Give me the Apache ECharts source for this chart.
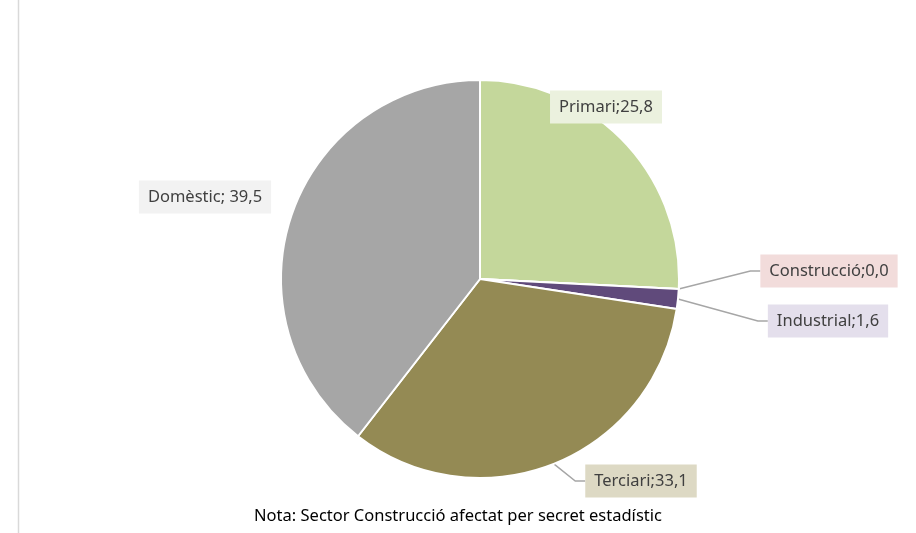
<!DOCTYPE html>
<html>
<head>
<meta charset="utf-8">
<script src="https://cdn.jsdelivr.net/npm/echarts@6/dist/echarts.min.js"></script>
<style>html,body{margin:0;padding:0;background:#fff}#c{width:916px;height:533px}</style>
</head>
<body>
<div id="c"></div>
<script>
var categories = ['Primari', 'Construcció', 'Industrial', 'Terciari', 'Domèstic'];
var values = [25.8, 0.0, 1.6, 33.1, 39.5];
var sliceColors = ['#C4D79B', '#F2DCDB', '#604A7B', '#948A54', '#A6A6A6'];
var labelBg = ['#EBF1DE', '#F2DCDB', '#E4DFEC', '#DDD9C4', '#F2F2F2'];
var showLine = [false, true, true, true, false];
var labelSep = [';', ';', ';', ';', '; '];
var note = 'Nota: Sector Construcció afectat per secret estadístic';

// label anchor centres (layout)
var labelPos = [[606, 107], [829, 271], [828, 321], [641, 481], [205, 197]];

var chart = echarts.init(document.getElementById('c'));
var data = categories.map(function (c, i) {
  return {
    name: c,
    value: values[i],
    itemStyle: { color: sliceColors[i] },
    label: { backgroundColor: labelBg[i] },
    labelLine: { show: showLine[i] }
  };
});
chart.setOption({
  animation: false,
  graphic: [
    { type: 'line', shape: { x1: 18.5, y1: 0, x2: 18.5, y2: 533 }, style: { stroke: '#D9D9D9', lineWidth: 1.5 } },
    { type: 'text', left: 'center', top: 508, style: { text: note, font: '16.5px "Noto Sans", sans-serif', fill: '#000' } }
  ],
  series: [{
    type: 'pie',
    center: [480, 279],
    radius: [0, 199],
    startAngle: 90,
    clockwise: true,
    avoidLabelOverlap: false,
    stillShowZeroSum: true,
    itemStyle: { borderColor: '#fff', borderWidth: 2 },
    label: {
      show: true,
      position: 'outside',
      fontFamily: '"Noto Sans", sans-serif',
      fontSize: 16.5,
      color: '#404040',
      padding: [9, 9, 7, 9],
      formatter: function (p) {
        return p.name + labelSep[p.dataIndex] + p.value.toFixed(1).replace('.', ',');
      }
    },
    labelLine: { lineStyle: { color: '#A6A6A6', width: 1.5 }, length: 10, length2: 10 },
    labelLayout: function (p) {
      var pos = labelPos[p.dataIndex];
      return { x: pos[0], y: pos[1], align: 'center', verticalAlign: 'middle' };
    },
    data: data
  }]
});
</script>
</body>
</html>
